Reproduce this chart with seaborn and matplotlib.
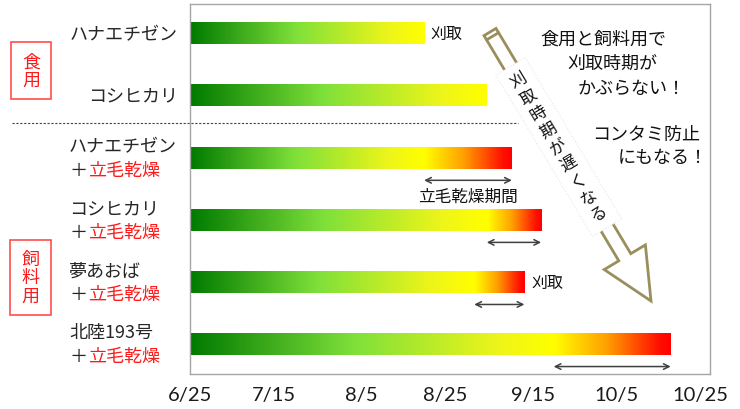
import matplotlib
matplotlib.use('Agg')
import matplotlib.pyplot as plt
import matplotlib.transforms as mtransforms
from matplotlib.colors import LinearSegmentedColormap
from matplotlib.patches import Polygon, Rectangle
import numpy as np
import pandas as pd
import seaborn as sns

# rows, top to bottom
varieties = ['ハナエチゼン', 'コシヒカリ', 'ハナエチゼン', 'コシヒカリ', '夢あおば', '北陸193号']
drying = [False, False, True, True, True, True]          # + 立毛乾燥
harvest = ['8/20', '9/4', '8/20', '9/4', '9/1', '9/20']  # 刈取適期 / 乾燥開始
finish = ['8/20', '9/4', '9/10', '9/17', '9/13', '10/18']  # 刈取
tick_dates = ['6/25', '7/15', '8/5', '8/25', '9/15', '10/5', '10/25']
harvest_label_rows = [0, 4]


def day(s):
    # days since 6/25
    return (pd.to_datetime('2013/' + s, format='%Y/%m/%d') - pd.Timestamp('2013-06-25')).days


df = pd.DataFrame({
    'label': [v + ('＋立毛乾燥' if d else '') for v, d in zip(varieties, drying)],
    'start': [day(s) for s in harvest],
    'end': [day(s) for s in finish],
})

sns.set_style('white')
plt.rcParams['font.family'] = ['Noto Sans CJK JP', 'DejaVu Sans']

fig = plt.figure(figsize=(7.4, 4.1), dpi=100)
ax = fig.add_axes([190 / 740, 35 / 410, 520 / 740, 370 / 410])


# pixel -> axes fraction helpers for the decorations
def afx(px):
    return (px - 190) / 520


def afy(py):
    return 1 - (py - 5) / 370


sns.barplot(data=df, x='end', y='label', orient='h', width=0.34, color='white',
            linewidth=0, errorbar=None, ax=ax)

cmap_g = LinearSegmentedColormap.from_list('g', [(0, '#007a00'), (0.45, '#7fe03a'),
                                                 (0.85, '#eef51a'), (1, '#ffff00')])
cmap_r = LinearSegmentedColormap.from_list('r', [(0, '#ffff00'), (0.45, '#ffa000'),
                                                 (0.9, '#ff1000'), (1, '#ff0000')])

for patch, (_, r) in zip(ax.patches, df.iterrows()):
    x0, y0 = patch.get_x(), patch.get_y()
    w, h = patch.get_width(), patch.get_height()
    xs = np.linspace(0, w, 600)
    if r.end > r.start:
        cols = np.where(xs[:, None] < r.start, cmap_g(xs / r.start),
                        cmap_r((xs - r.start) / (r.end - r.start)))
    else:
        cols = cmap_g(xs / w)
    ax.imshow(cols[None, :, :], extent=(x0, x0 + w, y0 + h, y0), aspect='auto',
              interpolation='bilinear', zorder=2)
    patch.set_visible(False)

    # drying period arrow
    if r.end > r.start:
        yy = y0 + h / 2 + 0.36
        ax.annotate('', xy=(r.end, yy), xytext=(r.start, yy),
                    arrowprops=dict(arrowstyle='<->', color='#404040', lw=1.1,
                                    shrinkA=0, shrinkB=0))

for i in harvest_label_rows:
    ax.text(df.end[i] + 1.6, i, '刈取', ha='left', va='center', fontsize=11.5, color='#111111')

ax.text((df.start[2] + df.end[2]) / 2, 2.61, '立毛乾燥期間', ha='center', va='center',
        fontsize=12, color='#111111')

ax.set_xlim(0, 124.4)
ax.set_ylim(5.48, -0.48)
ax.set_xticks([day(t) for t in tick_dates])
ax.set_xticklabels(tick_dates, fontfamily='Lato', fontsize=14.5, color='#1a1a1a')
ax.set_yticks([])
ax.set_xlabel('')
ax.set_ylabel('')
ax.tick_params(axis='x', length=0, pad=9)
for s in ax.spines.values():
    s.set_visible(True)
    s.set_color('#a6a6a6')
    s.set_linewidth(1)

# row labels
trans = mtransforms.blended_transform_factory(ax.transAxes, ax.transData)
for i, (v, d) in enumerate(zip(varieties, drying)):
    if not d:
        ax.text(afx(178), i, v, transform=trans, ha='right', va='center', fontsize=13, clip_on=False)
    else:
        ax.text(afx(69), i - 0.19, v, transform=trans, ha='left', va='center', fontsize=13, clip_on=False)
        ax.text(afx(70), i + 0.19, '＋', transform=trans, ha='left', va='center', fontsize=13, clip_on=False)
        ax.text(afx(88), i + 0.19, '立毛乾燥', transform=trans, ha='left', va='center',
                fontsize=13, color='#ff1a1a', clip_on=False)

# separator between 食用 and 飼料用
ax.plot([afx(12), afx(518)], [afy(124), afy(124)], transform=ax.transAxes, color='#444444',
        lw=0.8, ls=(0, (2, 1.5)), clip_on=False)

# group boxes
for (x, y, w, h), txt in [((11, 43, 40, 57), '食\n用'), ((10, 241, 41, 75), '飼\n料\n用')]:
    fig.add_artist(Rectangle((x / 740, 1 - (y + h) / 410), w / 740, h / 410,
                             transform=fig.transFigure, fill=False, ec='#ff4d4d', lw=1.2))
    fig.text((x + w / 2) / 740, 1 - (y + h / 2) / 410, txt, ha='center', va='center',
             fontsize=13, color='#ff1a1a', linespacing=1.05)

# comments on the right
for px, py, txt in [(540, 40, '食用と飼料用で'), (567, 64, '刈取時期が'), (578, 89, 'かぶらない！'),
                    (592, 135, 'コンタミ防止'), (618, 158, 'にもなる！')]:
    ax.text(afx(px), afy(py), txt, transform=ax.transAxes, ha='left', va='center',
            fontsize=13, color='#111111')

# big hollow arrow "刈取時期が遅くなる"
T = np.array([490.0, 33.0])
P = np.array([651.0, 302.0])
u = (P - T) / np.linalg.norm(P - T)
n = np.array([u[1], -u[0]])
B = P - 51 * u
pts = [T + 7 * n, B + 7 * n, B + 24 * n, P, B - 24 * n, B - 7 * n, T - 7 * n]
to_ax = lambda p: (afx(p[0]), afy(p[1]))
arrow_col = '#9a8e5c'
ax.add_patch(Polygon([to_ax(p) for p in pts], closed=True, fill=False, ec=arrow_col, lw=2,
                     transform=ax.transAxes, zorder=4))
ax.plot(*zip(to_ax(T + 5 * u + 7 * n), to_ax(T + 5 * u - 7 * n)), transform=ax.transAxes,
        color=arrow_col, lw=2, zorder=4)

box = [T + 40 * u + 17 * n, T + 228 * u + 17 * n, T + 228 * u - 17 * n, T + 40 * u - 17 * n]
ax.add_patch(Polygon([to_ax(p) for p in box], closed=True, fc='white', ec='#e6e6e6', lw=0.8,
                     ls=':', transform=ax.transAxes, zorder=5))
for k, ch in enumerate('刈取時期が遅くなる'):
    c = T + (56 + 19.4 * k) * u
    ax.text(*to_ax(c), ch, transform=ax.transAxes, ha='center', va='center', fontsize=12,
            rotation=31, rotation_mode='anchor', color='#111111', zorder=6)

fig.savefig('out.png', dpi=100)
